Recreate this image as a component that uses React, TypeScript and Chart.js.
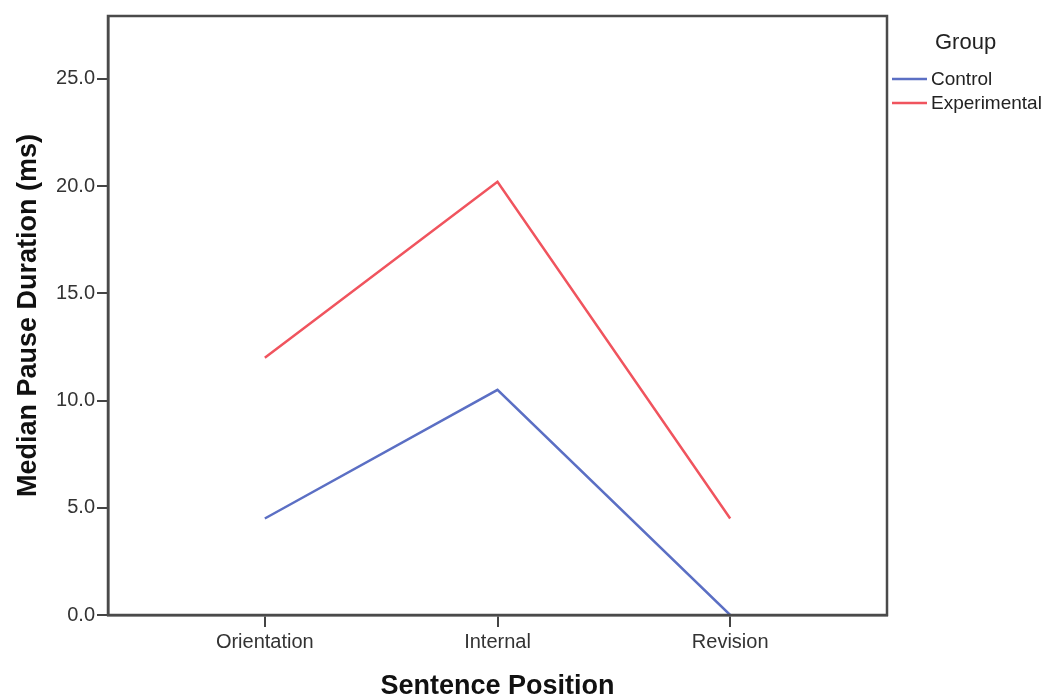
import React, { useEffect, useRef } from "react";
import { Chart, registerables } from "chart.js";

Chart.register(...registerables);

const categories = ["Orientation", "Internal", "Revision"];
const controlValues = [4.5, 10.5, 0.0];
const experimentalValues = [12.0, 20.2, 4.5];
const yTicks = [0, 5, 10, 15, 20, 25];
const seriesNames = ["Control", "Experimental"];
const seriesColors = ["#5b6fc4", "#f0545e"];
const legendTitle = "Group";
const xTitle = "Sentence Position";
const yTitle = "Median Pause Duration (ms)";

const W = 1046;
const H = 694;

const framePlugin = {
  id: "frame",
  afterDraw(chart: any) {
    const { ctx, chartArea } = chart;
    ctx.save();
    ctx.strokeStyle = "#4a4a4a";
    ctx.lineWidth = 2.5;
    ctx.strokeRect(chartArea.left, chartArea.top, chartArea.right - chartArea.left, chartArea.bottom - chartArea.top);
    // legend
    ctx.fillStyle = "#222";
    ctx.font = "22px 'Liberation Sans', Arial, sans-serif";
    ctx.textBaseline = "middle";
    ctx.textAlign = "left";
    ctx.fillText(legendTitle, 935, 43);
    ctx.font = "19px 'Liberation Sans', Arial, sans-serif";
    const ys = [79, 103];
    seriesNames.forEach((name, i) => {
      ctx.strokeStyle = seriesColors[i];
      ctx.lineWidth = 2.5;
      ctx.beginPath();
      ctx.moveTo(892, ys[i]);
      ctx.lineTo(927, ys[i]);
      ctx.stroke();
      ctx.fillStyle = "#222";
      ctx.fillText(name, 931, ys[i] + 1);
    });
    ctx.restore();
  },
};

export default function App() {
  const ref = useRef<HTMLCanvasElement>(null);
  useEffect(() => {
    document.body.style.margin = "0";
    const toPts = (arr: number[]) => arr.map((v, i) => ({ x: i, y: v }));
    const chart = new Chart(ref.current!, {
      type: "line",
      data: {
        datasets: [
          {
            label: seriesNames[0],
            data: toPts(controlValues),
            borderColor: seriesColors[0],
            borderWidth: 2.5,
            pointRadius: 0,
            tension: 0,
          },
          {
            label: seriesNames[1],
            data: toPts(experimentalValues),
            borderColor: seriesColors[1],
            borderWidth: 2.5,
            pointRadius: 0,
            tension: 0,
          },
        ],
      },
      options: {
        animation: false,
        responsive: false,
        devicePixelRatio: 1,
        layout: { padding: { left: 0, top: 16, right: 159, bottom: 0 } },
        plugins: { legend: { display: false }, tooltip: { enabled: false } },
        scales: {
          x: {
            type: "linear",
            min: -0.674,
            max: 2.674,
            afterBuildTicks: (s: any) => {
              s.ticks = categories.map((_, i) => ({ value: i }));
            },
            afterFit: (s: any) => {
              s.height = 79;
            },
            ticks: {
              callback: (v: any) => categories[v] ?? "",
              color: "#333",
              font: { family: "'Liberation Sans', Arial, sans-serif", size: 20 },
              padding: 3,
              maxRotation: 0,
              autoSkip: false,
            },
            grid: { display: true, drawOnChartArea: false, tickLength: 12, color: "#444", lineWidth: 2 },
            border: { display: true, color: "#4a4a4a", width: 2.5 },
            title: {
              display: true,
              text: xTitle,
              color: "#111",
              font: { family: "'Liberation Sans', Arial, sans-serif", size: 27, weight: "bold" },
              padding: { top: 0, bottom: -9 },
            },
          },
          y: {
            min: 0,
            max: 27.93,
            afterBuildTicks: (s: any) => {
              s.ticks = yTicks.map((v) => ({ value: v }));
            },
            afterFit: (s: any) => {
              s.width = 108;
            },
            ticks: {
              callback: (v: any) => Number(v).toFixed(1),
              color: "#333",
              font: { family: "'Liberation Sans', Arial, sans-serif", size: 20 },
              padding: 2,
            },
            grid: { display: true, drawOnChartArea: false, tickLength: 11, color: "#444", lineWidth: 2 },
            border: { display: true, color: "#4a4a4a", width: 2.5 },
            title: {
              display: true,
              text: yTitle,
              color: "#111",
              font: { family: "'Liberation Sans', Arial, sans-serif", size: 27, weight: "bold" },
              padding: { top: 12, bottom: 0 },
            },
          },
        },
      },
      plugins: [framePlugin],
    });
    return () => chart.destroy();
  }, []);
  return (
    <div style={{ width: W, height: H, background: "#fff" }}>
      <canvas ref={ref} width={W} height={H} style={{ width: W, height: H, display: "block" }} />
    </div>
  );
}
